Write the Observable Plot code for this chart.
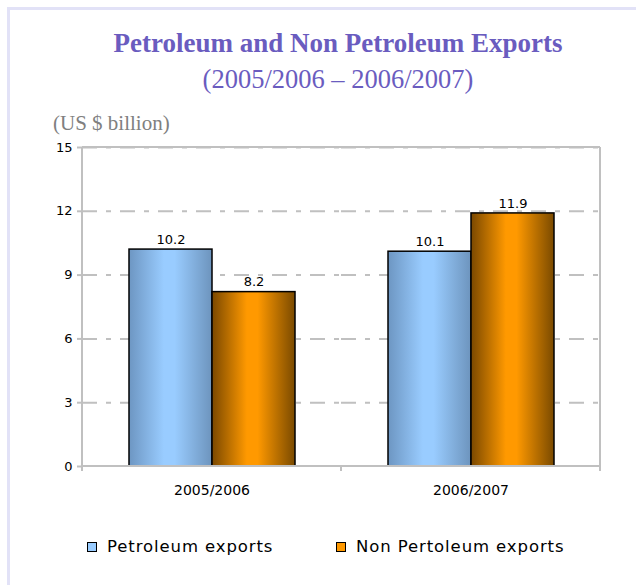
<!DOCTYPE html>
<html><head><meta charset="utf-8">
<script src="https://cdn.jsdelivr.net/npm/d3@7"></script>
<script src="https://cdn.jsdelivr.net/npm/@observablehq/plot@0.6"></script>
<style>
html,body{margin:0;padding:0;background:#fff}
body{width:636px;height:585px;position:relative;overflow:hidden}
#border{position:absolute;left:7px;top:7px;width:640px;height:600px;border-top:3px solid #e2e2f7;border-left:3px solid #e2e2f7}
.t{position:absolute;left:0;width:676px;text-align:center;font-family:"Liberation Serif","Times New Roman",serif;color:#6a5cbf;white-space:nowrap}
#title{top:28px;font-size:27px;line-height:31px;font-weight:bold}
#subtitle{top:64px;font-size:26.5px;line-height:31px}
#units{position:absolute;left:53px;top:111px;font-family:"Liberation Serif","Times New Roman",serif;font-size:21px;line-height:25px;color:#808080;white-space:nowrap}
#chart{position:absolute;left:0;top:140px}
#legend{position:absolute;left:0;top:535px;width:636px;height:24px;font-family:"DejaVu Sans",sans-serif;font-size:16.5px;color:#000}
.item{position:absolute;top:0;line-height:24px;white-space:nowrap;letter-spacing:0.9px}
.sw{position:absolute;top:7px;width:8px;height:8px;border:1.5px solid #000}
</style>
</head><body>
<div id="border"></div>
<div class="t" id="title">Petroleum and Non Petroleum Exports</div>
<div class="t" id="subtitle">(2005/2006 – 2006/2007)</div>
<div id="units">(US $ billion)</div>
<div id="chart"></div>
<div id="legend"></div>
<script>
const categories = ["2005/2006", "2006/2007"];
const seriesNames = ["Petroleum exports", "Non Pertoleum exports"];
const petroleum = [10.2, 10.1];
const nonPetroleum = [8.2, 11.9];
const yTicks = [0, 3, 6, 9, 12, 15];
const legendColors = ["#99ccff", "#ff9900"];

const data = [];
categories.forEach((c, i) => {
  data.push({cat: c, series: seriesNames[0], value: petroleum[i]});
  data.push({cat: c, series: seriesNames[1], value: nonPetroleum[i]});
});

const chart = Plot.plot({
  width: 636,
  height: 365,
  marginLeft: 82,
  marginRight: 36,
  marginTop: 7,
  marginBottom: 39,
  style: {fontFamily: "DejaVu Sans, sans-serif", fontSize: "13px", background: "transparent", color: "#000"},
  fx: {domain: categories, padding: 0, label: null},
  x: {domain: seriesNames, paddingInner: 0, paddingOuter: 0.55, axis: null},
  y: {domain: [0, 15], ticks: yTicks, axis: null},
  color: {domain: seriesNames, range: ["url(#gBlue)", "url(#gOrange)"]},
  marks: [
    Plot.ruleY(yTicks.filter(v => v > 0), {stroke: "#c0c0c0", strokeWidth: 2, strokeDasharray: "15,9,5,9"}),
    Plot.axisY({ticks: yTicks, tickSize: 5, tickPadding: 5, stroke: "#c0c0c0", strokeWidth: 2, strokeOpacity: 1, fill: "#000", fontSize: 13, label: null, anchor: "left", facetAnchor: "left"}),
    Plot.axisFx({anchor: "bottom", tickSize: 0, tickPadding: 19, fontSize: 14, label: null, fill: "#000"}),
    Plot.barY(data, {fx: "cat", x: "series", y: "value", fill: "series", stroke: "#000", strokeWidth: 1.5}),
    Plot.text(data, {fx: "cat", x: "series", y: "value", text: d => d.value.toFixed(1), dy: -10, fontSize: 13, fill: "#000"})
  ]
});

const svg = d3.select(chart);
const defs = svg.insert("defs", ":first-child");
function grad(id, edgeL, mid, edgeR) {
  const g = defs.append("linearGradient").attr("id", id).attr("x1", "0%").attr("x2", "100%").attr("y1", "0%").attr("y2", "0%");
  g.append("stop").attr("offset", "0%").attr("stop-color", edgeL);
  g.append("stop").attr("offset", "42%").attr("stop-color", mid);
  g.append("stop").attr("offset", "55%").attr("stop-color", mid);
  g.append("stop").attr("offset", "100%").attr("stop-color", edgeR);
}
grad("gBlue", "#6d96c2", "#99ccff", "#6d94bd");
grad("gOrange", "#7a4800", "#ff9900", "#7a4a00");

// frame lines and category boundary ticks, positioned from Plot's own scales
const fx = chart.scale("fx"), ys = chart.scale("y");
const x0 = fx.range[0], x1 = fx.range[1];
const yTop = ys.apply(15), yBot = ys.apply(0);
const fg = svg.append("g").attr("stroke", "#c0c0c0").attr("stroke-width", 2).attr("fill", "none");
fg.append("line").attr("x1", x0).attr("x2", x1).attr("y1", yTop).attr("y2", yTop);
fg.append("line").attr("x1", x1).attr("x2", x1).attr("y1", yTop).attr("y2", yBot + 5);
fg.append("line").attr("x1", x0).attr("x2", x0).attr("y1", yTop).attr("y2", yBot + 5);
fg.append("line").attr("x1", x0).attr("x2", x1).attr("y1", yBot).attr("y2", yBot);
categories.forEach(c => {
  const xr = fx.apply(c) + fx.bandwidth;
  fg.append("line").attr("x1", xr).attr("x2", xr).attr("y1", yBot).attr("y2", yBot + 5);
});

document.getElementById("chart").appendChild(chart);

const legend = document.getElementById("legend");
const legendX = [87, 336];
seriesNames.forEach((s, i) => {
  const sw = document.createElement("div");
  sw.className = "sw";
  sw.style.left = legendX[i] + "px";
  sw.style.background = legendColors[i];
  legend.appendChild(sw);
  const it = document.createElement("div");
  it.className = "item";
  it.style.left = (legendX[i] + 20) + "px";
  it.textContent = s;
  legend.appendChild(it);
});
</script>
</body></html>
